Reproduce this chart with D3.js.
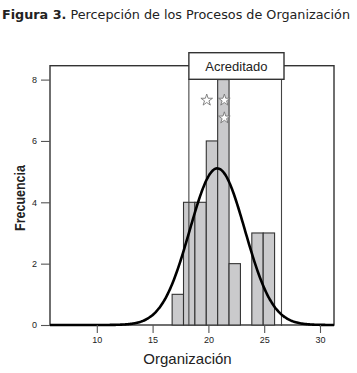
<!DOCTYPE html>
<html lang="es">
<head>
<meta charset="UTF-8">
<title>Figura 3</title>
<style>
  body { margin: 0; background: #fff; }
  svg text { fill: #222; }
</style>
</head>
<body>
<div id="chart"></div>
<script src="https://cdn.jsdelivr.net/npm/d3@7/dist/d3.min.js"></script>
<script>
// histogram bins (lower edges) and their counts
const binStarts = [16.75, 17.77, 18.79, 19.81, 20.83, 21.85, 22.87, 23.89, 24.91]
const binCounts = [1, 4, 4, 6, 8, 2, 0, 3, 3]
const binWidth = 1.02

// fitted normal curve
const curveMean = 20.8
const curveSd = 2.47
const curveN = 31

// markers (stars) above the tallest bar
const starX = [19.85, 21.43, 21.43]
const starY = [7.33, 7.33, 6.75]

// panel limits
const panelLimits = [18.25, 26.55]
const panelLabel = 'Acreditado'

const xTicks = [10, 15, 20, 25, 30]
const yTicks = [0, 2, 4, 6, 8]

const width = 357
const height = 373

const svg = d3.select('#chart')
  .append('svg')
  .attr('width', width)
  .attr('height', height)

const x = d3.scaleLinear().domain([10, 30]).range([96.8, 320])
const y = d3.scaleLinear().domain([0, 8]).range([325, 79.6])

const frame = { left: 50, right: 334, top: 65.7, bottom: 325 }

// title
const title = svg.append('text')
  .attr('x', 2)
  .attr('y', 19)
  .attr('font-family', 'DejaVu Sans, Verdana, sans-serif')
  .attr('font-size', 12)
  .attr('textLength', 348)
  .attr('lengthAdjust', 'spacingAndGlyphs')
title.append('tspan').attr('font-weight', 'bold').text('Figura 3.')
title.append('tspan').text(' Percepción de los Procesos de Organización')

// frame
svg.append('rect')
  .attr('x', frame.left)
  .attr('y', frame.top)
  .attr('width', frame.right - frame.left)
  .attr('height', frame.bottom - frame.top)
  .attr('fill', 'none')
  .attr('stroke', '#333')
  .attr('stroke-width', 1.4)

// bars
svg.selectAll('rect.bar')
  .data(binStarts.map((s, i) => ({ s, c: binCounts[i] })).filter(d => d.c > 0))
  .enter()
  .append('rect')
  .attr('class', 'bar')
  .attr('x', d => x(d.s))
  .attr('y', d => y(d.c))
  .attr('width', d => x(d.s + binWidth) - x(d.s))
  .attr('height', d => y(0) - y(d.c))
  .attr('fill', '#cacacc')
  .attr('stroke', '#333')
  .attr('stroke-width', 1.1)

// panel vertical limits
svg.selectAll('line.limit')
  .data(panelLimits)
  .enter()
  .append('line')
  .attr('class', 'limit')
  .attr('x1', d => x(d))
  .attr('x2', d => x(d))
  .attr('y1', 79.3)
  .attr('y2', 326)
  .attr('stroke', '#444')
  .attr('stroke-width', 1.1)

// normal curve
const binsTotal = curveN * binWidth
const curveData = d3.range(frame.left, frame.right + 0.5, 1).map(px => {
  const v = x.invert(px)
  const z = (v - curveMean) / curveSd
  return [v, binsTotal / (curveSd * Math.sqrt(2 * Math.PI)) * Math.exp(-0.5 * z * z)]
})
svg.append('path')
  .datum(curveData)
  .attr('d', d3.line().x(d => x(d[0])).y(d => y(d[1])).curve(d3.curveBasis))
  .attr('fill', 'none')
  .attr('stroke', '#000')
  .attr('stroke-width', 2.6)

// stars
const star = d3.symbol().type(d3.symbolStar).size(42)
svg.selectAll('path.star')
  .data(starX.map((v, i) => [v, starY[i]]))
  .enter()
  .append('path')
  .attr('class', 'star')
  .attr('d', star)
  .attr('transform', d => `translate(${x(d[0])},${y(d[1])})`)
  .attr('fill', '#fff')
  .attr('stroke', '#777')
  .attr('stroke-width', 0.9)

// panel label box
const boxLeft = x(panelLimits[0])
svg.append('rect')
  .attr('x', boxLeft)
  .attr('y', 52.7)
  .attr('width', 284 - boxLeft)
  .attr('height', 26.6)
  .attr('fill', '#fff')
  .attr('stroke', '#333')
  .attr('stroke-width', 1.4)
svg.append('text')
  .attr('x', (boxLeft + 284) / 2)
  .attr('y', 71)
  .attr('text-anchor', 'middle')
  .attr('font-family', 'Liberation Sans, Arial, sans-serif')
  .attr('font-size', 13)
  .text(panelLabel)

// axes
const xAxis = svg.append('g')
  .attr('transform', `translate(0,${frame.bottom})`)
  .call(d3.axisBottom(x).tickValues(xTicks).tickSize(8).tickPadding(4))
const yAxis = svg.append('g')
  .attr('transform', `translate(${frame.left},0)`)
  .call(d3.axisLeft(y).tickValues(yTicks).tickSize(9).tickPadding(4))

;[xAxis, yAxis].forEach(g => {
  g.select('.domain').remove()
  g.selectAll('line').attr('stroke', '#555').attr('stroke-width', 1.1)
  g.selectAll('text')
    .attr('fill', '#333')
    .attr('font-family', 'Liberation Sans, Arial, sans-serif')
    .attr('font-size', 9)
})

// axis titles
svg.append('text')
  .attr('x', 187.5)
  .attr('y', 364)
  .attr('text-anchor', 'middle')
  .attr('font-family', 'Liberation Sans, Arial, sans-serif')
  .attr('font-size', 15)
  .text('Organización')

svg.append('text')
  .attr('transform', 'translate(25,198) rotate(-90)')
  .attr('text-anchor', 'middle')
  .attr('font-family', 'Liberation Sans Narrow, Arial Narrow, sans-serif')
  .attr('font-weight', 'bold')
  .attr('font-size', 14)
  .attr('textLength', 66)
  .attr('lengthAdjust', 'spacingAndGlyphs')
  .text('Frecuencia')
</script>
</body>
</html>
